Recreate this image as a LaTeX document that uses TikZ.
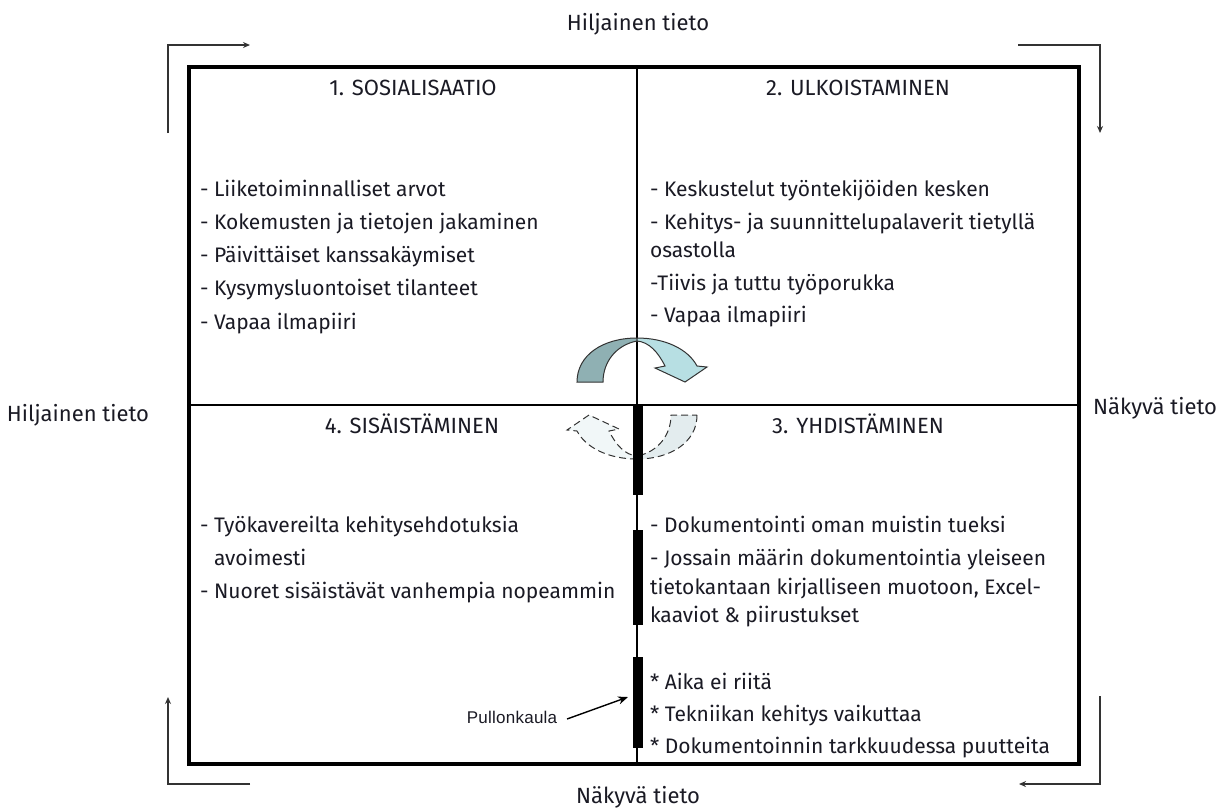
\documentclass[tikz,border=0pt]{standalone}
\usepackage{fontspec}
\setmainfont{Fira Sans}
\newfontfamily\smallfont[LetterSpace=1.5]{Liberation Sans}
\usetikzlibrary{arrows.meta}
\definecolor{inkc}{HTML}{1A1A24}
\definecolor{tealdark}{HTML}{8FB0B3}
\definecolor{teallight}{HTML}{B7DFE3}
\definecolor{paleA}{HTML}{E3ECEE}
\definecolor{paleB}{HTML}{F1F7F8}
\definecolor{edgegray}{HTML}{333333}

% bent block arrow: darker rising half, lighter falling half with head
\newcommand\bendarrow[3]{%
  \path[fill=#1,#3] (577,382) .. controls (577,355) and (603,338) .. (637,338)
     -- (637,341) .. controls (616,345) and (603,362) .. (603,382) -- cycle;
  \path[fill=#2,#3] (637,338) .. controls (665,338) and (688,349) .. (697,366)
     -- (707,367) -- (685,382) -- (655,368) -- (665,366)
     .. controls (658,352) and (649,342) .. (637,341) -- cycle;
}

\begin{document}
\begin{tikzpicture}[x=1pt,y=-1pt,
  every node/.style={inner sep=0pt, outer sep=0pt, text=inkc,
    font=\fontsize{21}{24}\selectfont},
  item/.style={anchor=base west},
  head/.style={anchor=base, font=\fontsize{22}{24}\selectfont},
  frame/.style={line width=4pt, draw=black},
  divider/.style={line width=1.2pt, draw=black},
  flow/.style={line width=1.4pt, draw=edgegray, -{Stealth[length=7pt,width=6pt]}},
  neck/.style={fill=black},
  solidedge/.style={draw=edgegray, line width=1pt},
  dashedge/.style={draw=edgegray, line width=1pt, dash pattern=on 7pt off 4pt}]

\useasboundingbox (0,0) rectangle (1230,807);
\fill[white] (0,0) rectangle (1230,807);

% quadrant frame and dividers
\draw[divider] (637,67) -- (637,764);
\draw[divider] (189,405) -- (1079,405);
\draw[frame] (189,67) rectangle (1079,764);

% cycle arrows round the frame
\coordinate (tlA) at (168,133); \coordinate (tlB) at (168,45); \coordinate (tlC) at (250,45);
\coordinate (trA) at (1018,45); \coordinate (trB) at (1100,45); \coordinate (trC) at (1100,133);
\coordinate (brA) at (1100,696); \coordinate (brB) at (1100,784); \coordinate (brC) at (1019,784);
\coordinate (blA) at (250,784); \coordinate (blB) at (168,784); \coordinate (blC) at (168,697);
\draw[flow] (tlA) -- (tlB) -- (tlC);
\draw[flow] (trA) -- (trB) -- (trC);
\draw[flow] (brA) -- (brB) -- (brC);
\draw[flow] (blA) -- (blB) -- (blC);

% outer labels
\node[head] (tacitTop) at (638,30) {Hiljainen tieto};
\node[head] (tacitLeft) at (78,421) {Hiljainen tieto};
\node[head] (explRight) at (1155,414) {Näkyvä tieto};
\node[head] (explBottom) at (638,803) {Näkyvä tieto};

% transfer arrows at the centre
\bendarrow{tealdark}{teallight}{solidedge}
\begin{scope}[shift={(1274,797)}, xscale=-1, yscale=-1]
  \bendarrow{paleA}{paleB}{dashedge}
\end{scope}

% bottleneck bars
\fill[neck] (633,405) rectangle (643,495);
\fill[neck] (633,530) rectangle (643,625);
\fill[neck] (633,657) rectangle (643,748);

% quadrant titles
\node[head] (q1) at (413,95) {1. SOSIALISAATIO};
\node[head] (q2) at (858,95) {2. ULKOISTAMINEN};
\node[head] (q4) at (412,433) {4. SISÄISTÄMINEN};
\node[head] (q3) at (858,433) {3. YHDISTÄMINEN};

% 1. socialisation
\node[item] (s1) at (200,196) {- Liiketoiminnalliset arvot};
\node[item] (s2) at (200,229) {- Kokemusten ja tietojen jakaminen};
\node[item] (s3) at (200,262) {- Päivittäiset kanssakäymiset};
\node[item] (s4) at (200,295) {- Kysymysluontoiset tilanteet};
\node[item] (s5) at (200,329) {- Vapaa ilmapiiri};

% 2. externalisation
\node[item] (u1) at (650,196) {- Keskustelut työntekijöiden kesken};
\node[item] (u2) at (650,229) {- Kehitys- ja suunnittelupalaverit tietyllä};
\node[item] (u2b) at (650,257) {osastolla};
\node[item] (u3) at (650,290) {-Tiivis ja tuttu työporukka};
\node[item] (u4) at (650,322) {- Vapaa ilmapiiri};

% 4. internalisation
\node[item] (i1) at (200,532) {- Työkavereilta kehitysehdotuksia};
\node[item] (i1b) at (214,565) {avoimesti};
\node[item] (i2) at (200,598) {- Nuoret sisäistävät vanhempia nopeammin};

% 3. combination
\node[item] (y1) at (650,532) {- Dokumentointi oman muistin tueksi};
\node[item] (y2) at (650,565) {- Jossain määrin dokumentointia yleiseen};
\node[item] (y2b) at (650,594) {tietokantaan kirjalliseen muotoon, Excel-};
\node[item] (y2c) at (650,622) {kaaviot \& piirustukset};
\node[item] (y3) at (650,689) {* Aika ei riitä};
\node[item] (y4) at (650,721) {* Tekniikan kehitys vaikuttaa};
\node[item] (y5) at (650,753) {* Dokumentoinnin tarkkuudessa puutteita};

% bottleneck callout
\node[anchor=base, font=\smallfont\fontsize{17}{19}\selectfont] (neckLabel) at (512,723) {Pullonkaula};
\coordinate (neckTip) at (628,697);
\draw[line width=1.4pt, draw=black, -{Stealth[length=10pt,width=8pt]}] (567,719) -- (neckTip);

\end{tikzpicture}
\end{document}
